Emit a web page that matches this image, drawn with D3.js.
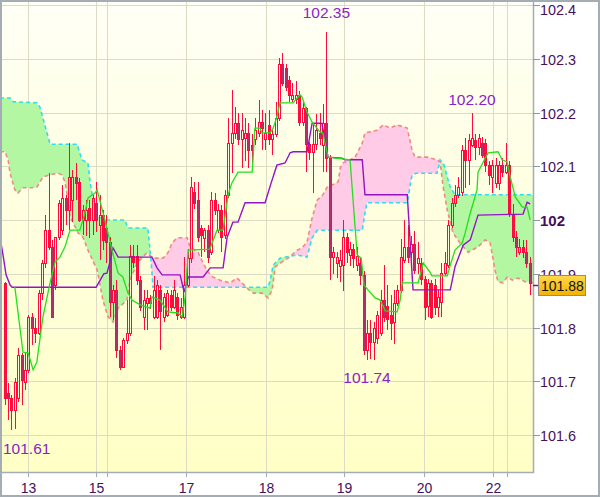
<!DOCTYPE html>
<html>
<head>
<meta charset="utf-8">
<script src="https://cdn.jsdelivr.net/npm/d3@7/dist/d3.min.js"></script>
<style>
  html, body { margin: 0; padding: 0; background: #ffffff; }
  svg { display: block; font-family: "Liberation Sans", Arial, sans-serif; }
</style>
</head>
<body>
<svg id="chart" width="600" height="497"></svg>
<script>
// ---------------- DATA ----------------
// Hourly candles: [open, high, low, close]
const ohlc = [
[101.883,101.885,101.656,101.669],[101.678,101.697,101.628,101.669],[101.669,101.674,101.610,101.647],[101.647,101.706,101.612,101.699],
[101.669,101.762,101.661,101.749],[101.749,101.752,101.656,101.702],[101.699,101.752,101.684,101.721],[101.721,101.824,101.716,101.820],
[101.820,101.827,101.767,101.799],[101.799,101.818,101.771,101.790],[101.790,101.870,101.786,101.864],[101.864,101.926,101.851,101.920],
[101.920,102.009,101.911,101.981],[101.981,102.087,101.944,101.950],[101.950,101.963,101.820,101.820],[101.879,101.968,101.870,101.968],
[101.968,102.037,101.963,102.032],[101.981,102.065,101.972,102.041],[102.041,102.046,101.991,102.019],[102.019,102.143,101.981,102.080],
[102.037,102.093,101.996,102.080],[102.080,102.106,102.037,102.069],[102.071,102.078,101.996,102.000],[102.000,102.028,101.972,102.019],
[102.000,102.037,101.970,102.019],[102.022,102.037,101.967,102.000],[102.000,102.046,101.972,102.041],[102.032,102.071,101.978,102.000],
[101.990,102.046,101.926,102.009],[102.009,102.019,101.944,101.963],[101.985,102.009,101.920,101.959],[101.959,101.968,101.820,101.847],
[101.847,101.879,101.814,101.870],[101.870,101.888,101.744,101.758],[101.758,101.765,101.721,101.727],[101.727,101.780,101.725,101.777],
[101.777,101.851,101.770,101.790],[101.790,101.953,101.785,101.933],[101.933,101.953,101.910,101.922],[101.933,101.953,101.880,101.888],
[101.888,101.895,101.830,101.838],[101.820,101.870,101.795,101.851],[101.845,101.870,101.795,101.855],[101.855,101.860,101.835,101.845],
[101.820,101.895,101.815,101.870],[101.820,101.888,101.815,101.879],[101.870,101.880,101.758,101.830],[101.820,101.865,101.810,101.857],
[101.824,101.870,101.820,101.864],[101.860,101.870,101.830,101.838],[101.838,101.888,101.835,101.870],[101.857,101.865,101.814,101.824],
[101.820,101.855,101.815,101.838],[101.820,101.931,101.815,101.879],[101.879,101.946,101.875,101.929],[101.929,102.080,101.920,102.061],
[102.052,102.071,102.020,102.032],[102.037,102.071,101.960,101.968],[101.985,101.990,101.931,101.972],[101.967,101.985,101.940,101.981],
[101.981,101.990,101.920,101.931],[101.941,102.052,101.935,102.037],[102.037,102.050,102.010,102.019],[101.981,102.030,101.975,102.019],
[102.019,102.028,101.940,101.968],[101.972,102.055,101.965,102.047],[102.047,102.190,102.040,102.143],[102.143,102.242,102.087,102.162],
[102.162,102.210,102.150,102.180],[102.180,102.200,102.140,102.151],[102.151,102.200,102.097,102.167],[102.153,102.190,102.110,102.162],
[102.162,102.180,102.097,102.130],[102.140,102.160,102.106,102.130],[102.150,102.190,102.140,102.167],[102.162,102.223,102.155,102.182],
[102.182,102.205,102.130,102.171],[102.150,102.200,102.130,102.162],[102.176,102.205,102.140,102.150],[102.151,102.170,102.120,102.160],
[102.160,102.220,102.155,102.190],[102.190,102.301,102.185,102.290],[102.290,102.310,102.250,102.255],[102.282,102.290,102.240,102.247],
[102.260,102.268,102.220,102.233],[102.225,102.255,102.220,102.233],[102.225,102.258,102.215,102.233],[102.233,102.240,102.175,102.182],
[102.182,102.220,102.175,102.208],[102.208,102.210,102.089,102.141],[102.141,102.145,102.112,102.127],[102.127,102.178,102.050,102.141],
[102.141,102.197,102.130,102.167],[102.162,102.200,102.140,102.153],[102.140,102.215,102.089,102.180],[102.180,102.350,102.090,102.115],
[102.115,102.120,101.888,101.931],[101.931,101.950,101.900,101.941],[101.920,101.940,101.893,101.931],[101.915,101.945,101.885,101.925],
[101.916,102.000,101.867,101.968],[101.968,101.975,101.920,101.941],[101.935,101.960,101.915,101.946],[101.946,101.955,101.910,101.930],
[101.916,101.950,101.905,101.933],[101.920,101.930,101.880,101.898],[101.898,101.905,101.749,101.758],[101.758,101.814,101.740,101.790],
[101.790,101.814,101.742,101.773],[101.773,101.810,101.740,101.799],[101.780,101.830,101.770,101.824],[101.790,101.870,101.785,101.851],
[101.851,101.916,101.810,101.820],[101.840,101.880,101.795,101.816],[101.824,101.860,101.777,101.808],[101.810,101.870,101.770,101.845],
[101.845,101.880,101.840,101.870],[101.870,101.965,101.865,101.931],[101.925,102.000,101.920,101.950],[101.950,101.990,101.920,101.931],
[101.940,101.970,101.930,101.955],[101.955,101.980,101.900,101.907],[101.920,101.960,101.900,101.930],[101.920,101.930,101.880,101.890],
[101.890,101.895,101.814,101.838],[101.840,101.890,101.820,101.883],[101.883,101.888,101.815,101.820],[101.880,101.890,101.824,101.838],
[101.838,101.870,101.820,101.857],[101.847,101.920,101.820,101.901],[101.901,101.940,101.895,101.920],[101.916,102.000,101.910,101.990],
[101.990,102.040,101.985,102.032],[102.032,102.065,102.025,102.047],[102.047,102.080,102.040,102.061],[102.052,102.140,102.045,102.130],
[102.130,102.152,102.060,102.112],[102.112,102.160,102.065,102.149],[102.140,102.200,102.135,102.153],[102.149,102.160,102.112,102.135],
[102.135,102.160,102.120,102.153],[102.143,102.155,102.115,102.121],[102.143,102.150,102.090,102.102],[102.102,102.110,102.065,102.084],
[102.080,102.112,102.050,102.102],[102.069,102.115,102.060,102.102],[102.069,102.110,102.055,102.102],[102.102,102.115,102.080,102.089],
[102.089,102.143,102.085,102.102],[102.102,102.110,102.005,102.013],[102.009,102.030,101.960,101.968],[101.968,101.980,101.931,101.950],
[101.941,101.965,101.935,101.950],[101.950,101.962,101.930,101.941],[101.941,101.962,101.910,101.920],[101.920,101.931,101.861,101.883]
];

// Ichimoku lines as [bar index, price] breakpoints
const tenkan = [[3.0,101.875],[5.4,101.754],[6.9,101.753],[8.4,101.721],[9.5,101.736],[11.3,101.820],[13.4,101.883],[14.9,101.922],
[16.3,101.931],[17.8,101.950],[19.3,101.981],[22.2,101.981],[23.7,102.013],[24.6,102.041],[26.7,102.050],[27.3,102.056],[29.6,102.000],
[31.7,101.944],[33.5,101.901],[34.9,101.894],[36.4,101.864],[37.6,101.851],[40.0,101.842],[42.9,101.836],[43.5,101.857],[45.9,101.851],
[48.2,101.829],[51.2,101.827],[52.4,101.820],[53.3,101.857],[54.2,101.944],[60.6,101.946],[62.7,101.981],[64.5,101.981],[66.0,102.047],
[67.1,102.069],[68.9,102.089],[73.1,102.089],[73.9,102.171],[75.4,102.171],[76.0,102.162],[78.4,102.162],[79.3,102.171],[80.4,102.192],
[81.3,102.218],[85.2,102.218],[87.2,102.233],[87.8,102.229],[89.3,102.201],[90.8,102.182],[93.1,102.164],[94.0,102.162],[95.5,102.117],
[102.0,102.112],[104.1,101.935],[105.3,101.929],[106.1,101.879],[107.3,101.870],[109.4,101.855],[110.9,101.851],[112.4,101.831],
[115.9,101.829],[116.8,101.851],[117.4,101.883],[122.1,101.883],[123.6,101.920],[125.6,101.903],[126.2,101.896],[130.7,101.896],
[131.6,101.916],[133.0,101.944],[135.1,101.957],[136.0,101.976],[137.5,102.013],[139.5,102.056],[139.8,102.089],[141.9,102.115],
[142.8,102.125],[145.7,102.127],[146.9,102.112],[148.4,102.108],[149.3,102.080],[150.8,102.043],[152.9,102.024],[154.3,102.024],[155.2,102.000]];

const kijun = [[-1.4,101.968],[-0.5,101.935],[0.4,101.898],[1.6,101.879],[2.2,101.875],[27.0,101.875],[28.2,101.888],[29.3,101.900],
[30.2,101.901],[31.1,101.922],[32.0,101.948],[33.5,101.931],[43.5,101.931],[45.0,101.911],[46.5,101.898],[51.8,101.898],[53.0,101.866],
[54.2,101.894],[58.6,101.894],[60.7,101.911],[64.5,101.911],[65.7,101.968],[67.4,101.996],[68.9,101.996],[71.0,102.032],[76.9,102.032],
[78.7,102.069],[80.4,102.102],[82.8,102.106],[84.3,102.125],[85.2,102.127],[89.3,102.127],[90.8,102.180],[93.7,102.180],[95.5,102.117],
[99.6,102.115],[100.5,102.112],[105.6,102.112],[106.4,102.047],[118.9,102.047],[120.6,101.870],[131.6,101.870],[133.0,101.913],
[135.4,101.953],[137.5,101.963],[139.8,102.009],[153.1,102.011],[154.3,102.033],[155.2,102.030]];

const senkouA = [[-1.4,102.227],[1.6,102.227],[2.5,102.220],[9.5,102.218],[10.4,102.210],[12.5,102.162],[13.4,102.141],[21.4,102.141],
[22.8,102.112],[24.6,102.106],[25.2,102.071],[26.1,102.037],[27.6,102.006],[30.2,102.000],[35.5,102.000],[36.4,101.985],[42.3,101.985],
[43.2,101.926],[43.8,101.875],[77.8,101.875],[78.4,101.888],[79.3,101.916],[81.3,101.929],[86.4,101.935],[89.3,101.931],[90.8,101.967],
[92.3,101.981],[105.6,101.981],[106.4,102.013],[107.0,102.032],[118.9,102.032],[120.3,102.084],[121.5,102.087],[127.7,102.087],
[128.6,102.112],[129.8,102.102],[130.7,102.080],[131.6,102.061],[133.0,102.047],[156.1,102.047]];

const senkouB = [[-1.4,102.127],[0.1,102.127],[1.0,102.112],[1.6,102.087],[3.0,102.056],[3.9,102.050],[5.4,102.060],[7.5,102.060],
[9.5,102.061],[11.3,102.080],[13.4,102.084],[15.7,102.087],[16.9,102.084],[17.8,102.071],[18.7,102.037],[19.3,102.006],[21.7,101.976],
[23.1,101.968],[24.6,101.944],[27.3,101.907],[29.0,101.851],[30.5,101.820],[32.0,101.810],[33.5,101.836],[36.1,101.851],[37.0,101.888],
[39.1,101.920],[42.0,101.939],[43.8,101.929],[46.8,101.929],[48.2,101.939],[49.4,101.957],[50.9,101.967],[53.9,101.967],[54.7,101.950],
[57.1,101.940],[58.6,101.920],[60.1,101.903],[61.5,101.894],[63.6,101.888],[66.6,101.883],[68.6,101.892],[70.1,101.883],[71.6,101.873],
[73.4,101.864],[76.0,101.864],[77.8,101.855],[79.0,101.870],[79.9,101.913],[81.9,101.922],[83.7,101.929],[86.4,101.944],[87.8,101.948],
[89.3,101.959],[90.8,102.004],[92.3,102.037],[94.0,102.047],[95.2,102.061],[96.7,102.065],[98.5,102.071],[99.1,102.097],[99.9,102.106],
[102.0,102.112],[103.5,102.117],[105.6,102.143],[106.4,102.162],[110.0,102.167],[111.8,102.177],[113.8,102.171],[115.9,102.177],
[118.9,102.171],[120.3,102.130],[121.2,102.117],[124.8,102.117],[127.7,102.112],[128.6,102.108],[129.5,102.061],[130.7,102.019],
[131.6,101.996],[132.4,101.976],[134.5,101.957],[136.9,101.940],[139.8,101.950],[141.9,101.963],[143.4,101.957],[144.8,101.907],
[145.7,101.885],[147.2,101.883],[148.4,101.894],[149.9,101.888],[151.6,101.892],[153.7,101.885],[156.1,101.883]];

// Price axis ticks
const priceTicks = [101.6, 101.7, 101.8, 101.9, 102.0, 102.1, 102.2, 102.3, 102.4];
const priceTickLabels = ["101.6","101.7","101.8","101.9","102","102.1","102.2","102.3","102.4"];
// Day separators (bar index) and their labels ("" = separator without label)
const dayIdx = [6.9, 27.1, 30.1, 53.5, 77.1, 100.3, 123.7, 144.3, 148.3];
const dayLabels = ["13","15","","17","18","19","20","22",""];
// High / low annotations
const annoIdx = [95, 138, 107, 2];
const annoVal = [102.35, 102.20, 101.74, 101.61];
const annoText = ["102.35","102.20","101.74","101.61"];
const lastPrice = 101.88;
const lastPriceText = "101.88";

// ---------------- CHART ----------------
const W = 600, H = 497;
const plotR = 533, plotB = 472;
const svg = d3.select("#chart");

const x = d3.scaleLinear().domain([0, ohlc.length - 1]).range([4.7, 529.5]);
const y = d3.scaleLinear().domain([101.6, 102.4]).range([435, 5]);

const defs = svg.append("defs");
const bg = defs.append("linearGradient").attr("id","bg").attr("x1",0).attr("y1",0).attr("x2",0).attr("y2",1);
bg.append("stop").attr("offset","0%").attr("stop-color","#fffff6");
bg.append("stop").attr("offset","100%").attr("stop-color","#ffffc6");
const gold = defs.append("linearGradient").attr("id","gold").attr("x1",0).attr("y1",0).attr("x2",0).attr("y2",1);
gold.append("stop").attr("offset","0%").attr("stop-color","#ffd84a");
gold.append("stop").attr("offset","100%").attr("stop-color","#f2b200");

defs.append("clipPath").attr("id","plotClip").append("rect")
  .attr("x",1).attr("y",1).attr("width",plotR-1).attr("height",plotB-1);

// clip regions for the cloud
const areaAboveB = d3.area().x(d => x(d[0])).y0(0).y1(d => y(d[1]));
const areaBelowB = d3.area().x(d => x(d[0])).y0(plotB).y1(d => y(d[1]));
defs.append("clipPath").attr("id","clipAboveB").append("path").attr("d", areaAboveB(senkouB));
defs.append("clipPath").attr("id","clipBelowB").append("path").attr("d", areaBelowB(senkouB));

svg.append("rect").attr("width",W).attr("height",H).attr("fill","#ffffff");
svg.append("rect").attr("x",0).attr("y",0).attr("width",plotR).attr("height",plotB).attr("fill","url(#bg)");

// grid
const grid = svg.append("g").attr("stroke","#dcdcc4").attr("stroke-width",1);
priceTicks.forEach(v => {
  const yy = Math.round(y(v)) + 0.5;
  grid.append("line").attr("x1",0).attr("x2",plotR).attr("y1",yy).attr("y2",yy);
});
dayIdx.forEach(v => {
  const xx = Math.round(x(v)) + 0.5;
  grid.append("line").attr("x1",xx).attr("x2",xx).attr("y1",0).attr("y2",plotB);
});

const plot = svg.append("g").attr("clip-path","url(#plotClip)");

// cloud fills
const areaBelowA = d3.area().x(d => x(d[0])).y0(plotB).y1(d => y(d[1]));
const areaAboveA = d3.area().x(d => x(d[0])).y0(0).y1(d => y(d[1]));
plot.append("g").attr("clip-path","url(#clipAboveB)")
  .append("path").attr("d", areaBelowA(senkouA)).attr("fill","#b4f7a2");
plot.append("g").attr("clip-path","url(#clipBelowB)")
  .append("path").attr("d", areaAboveA(senkouA)).attr("fill","#ffcbe6");

const line = d3.line().x(d => x(d[0])).y(d => y(d[1]));
plot.append("path").attr("d", line(senkouB)).attr("fill","none")
  .attr("stroke","#f08a80").attr("stroke-width",1.6).attr("stroke-dasharray","4,3");
plot.append("path").attr("d", line(senkouA)).attr("fill","none")
  .attr("stroke","#30dcf0").attr("stroke-width",1.6).attr("stroke-dasharray","4,3");

// candles
const cg = plot.append("g");
ohlc.forEach((c, i) => {
  const [o, h, l, cl] = c;
  const cx = Math.round(x(i)) + 0.5;
  const top = Math.round(y(Math.max(o, cl))) + 0.5;
  let bot = Math.round(y(Math.min(o, cl))) + 0.5;
  if (bot - top < 1) bot = top + 1;
  const yh = Math.round(y(h)), yl = Math.round(y(l));
  cg.append("line").attr("x1",cx).attr("x2",cx).attr("y1",yh).attr("y2",top)
    .attr("stroke","#ff0a3c").attr("stroke-width",1);
  cg.append("line").attr("x1",cx).attr("x2",cx).attr("y1",bot).attr("y2",yl)
    .attr("stroke","#ff0a3c").attr("stroke-width",1);
  cg.append("rect").attr("x",cx-1).attr("y",top).attr("width",2).attr("height",bot-top)
    .attr("fill", cl < o ? "#b4306c" : "none")
    .attr("stroke","#ff0a3c").attr("stroke-width",1);
});

// tenkan / kijun
plot.append("path").attr("d", line(kijun)).attr("fill","none")
  .attr("stroke","#9412c8").attr("stroke-width",1.4);
plot.append("path").attr("d", line(tenkan)).attr("fill","none")
  .attr("stroke","#22e01c").attr("stroke-width",1.3);

// annotations
const annoDy = [-14, -8, 23, 24];
annoIdx.forEach((idx, k) => {
  const t = svg.append("text").text(annoText[k])
    .attr("font-size","15.5px").attr("fill","#8a24c6")
    .attr("y", y(annoVal[k]) + annoDy[k]);
  const w = t.node().getComputedTextLength();
  let left = x(idx) - w / 2;
  if (left < 3) left = 3;
  t.attr("x", left);
});

// axes lines
svg.append("line").attr("x1",plotR+0.5).attr("x2",plotR+0.5).attr("y1",0).attr("y2",plotB+1)
  .attr("stroke","#a4acb4").attr("stroke-width",1.5);
svg.append("line").attr("x1",0).attr("x2",plotR+1).attr("y1",plotB+0.5).attr("y2",plotB+0.5)
  .attr("stroke","#a4acb4").attr("stroke-width",1.5);

// price axis
priceTicks.forEach((v, k) => {
  const yy = Math.round(y(v)) + 0.5;
  svg.append("line").attr("x1",plotR).attr("x2",plotR+7).attr("y1",yy).attr("y2",yy)
    .attr("stroke","#8e98a4").attr("stroke-width",1);
  const isMain = v === 102.0;
  svg.append("text").text(priceTickLabels[k])
    .attr("x", 540).attr("y", Math.max(yy, 10)).attr("dy","0.35em")
    .attr("font-size", isMain ? "15px" : "14.4px")
    .attr("font-weight", isMain ? "bold" : "normal")
    .attr("fill","#46105c");
});

// day axis
dayIdx.forEach((v, k) => {
  const xx = Math.round(x(v)) + 0.5;
  svg.append("line").attr("x1",xx).attr("x2",xx).attr("y1",plotB).attr("y2",plotB+5)
    .attr("stroke","#a4acb4").attr("stroke-width",1);
  if (dayLabels[k]) {
    svg.append("text").text(dayLabels[k]).attr("x",xx).attr("y",493)
      .attr("text-anchor","middle").attr("font-size","14px").attr("fill","#46105c");
  }
});

// last price marker
const yl = Math.round(y(lastPrice)) + 0.5;
svg.append("line").attr("x1",plotR).attr("x2",plotR+6).attr("y1",yl).attr("y2",yl)
  .attr("stroke","#7a1a8a").attr("stroke-width",1.5);
svg.append("rect").attr("x",538.5).attr("y",yl-10).attr("width",47).attr("height",20)
  .attr("fill","url(#gold)").attr("stroke","#8c8c8c").attr("stroke-width",1);
svg.append("text").text(lastPriceText).attr("x",541).attr("y",yl).attr("dy","0.36em")
  .attr("font-size","14px").attr("fill","#111");

// outer frame
svg.append("rect").attr("x",1).attr("y",1).attr("width",W-2).attr("height",H-2)
  .attr("fill","none").attr("stroke","#a4acb4").attr("stroke-width",2);
</script>
</body>
</html>
